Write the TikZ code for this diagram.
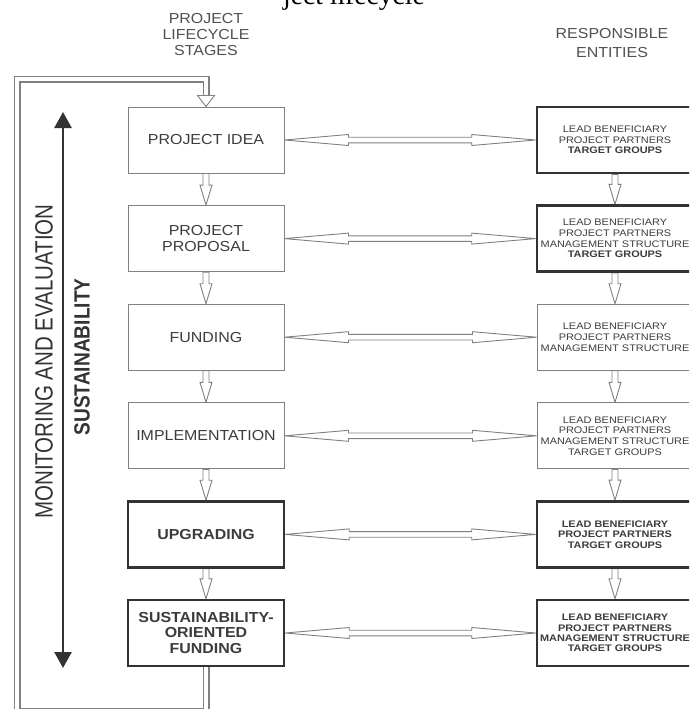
\documentclass[tikz,border=0pt]{standalone}
\usepackage{fontspec}
\setmainfont{Liberation Sans}
\newfontfamily\stagefont[FakeStretch=1.1]{Liberation Sans}
\newfontfamily\entityfont[FakeStretch=1.15]{Liberation Sans}
\newfontfamily\sidefont[FakeStretch=0.82]{Liberation Sans}
\newfontfamily\sustfont[FakeStretch=0.87]{Liberation Sans}
\newfontfamily\captionfont{Liberation Serif}
\usetikzlibrary{arrows.meta,backgrounds}
\definecolor{textgray}{HTML}{3C3C3C}
\definecolor{linegray}{HTML}{808080}
\definecolor{boldgray}{HTML}{333333}
\definecolor{headgray}{HTML}{505050}

\tikzset{
  stage/.style={draw=linegray,line width=1pt,fill=white,minimum width=156pt,minimum height=66pt,
    inner sep=0pt,align=center,text=textgray,font=\stagefont\fontsize{14.5}{16}\selectfont},
  keystage/.style={stage,draw=boldgray,line width=2.4pt,font=\stagefont\bfseries\fontsize{14.5}{15.5}\selectfont},
  entity/.style={stage,font=\entityfont\fontsize{9.5}{10.7}\selectfont},
  keyentity/.style={entity,draw=boldgray,line width=2.6pt},
  boldentity/.style={keyentity,font=\entityfont\bfseries\fontsize{9.5}{10.4}\selectfont},
  header/.style={align=center,text=headgray,font=\stagefont\fontsize{14.5}{16}\selectfont},
  flow/.style={draw=linegray,line width=0.9pt,fill=white,to path={
    ([xshift=-3pt]\tikztostart) -- ([xshift=-3pt,yshift=20pt]\tikztotarget)
    -- ([xshift=-6pt,yshift=20pt]\tikztotarget) -- (\tikztotarget)
    -- ([xshift=6pt,yshift=20pt]\tikztotarget) -- ([xshift=3pt,yshift=20pt]\tikztotarget)
    -- ([xshift=3pt]\tikztostart) -- cycle}},
  link/.style={draw=linegray,line width=0.9pt,fill=white,to path={
    (\tikztostart) -- ([xshift=64pt,yshift=5.5pt]\tikztostart) -- ([xshift=64pt,yshift=2.8pt]\tikztostart)
    -- ([xshift=-64pt,yshift=2.8pt]\tikztotarget) -- ([xshift=-64pt,yshift=5.5pt]\tikztotarget)
    -- (\tikztotarget)
    -- ([xshift=-64pt,yshift=-5.5pt]\tikztotarget) -- ([xshift=-64pt,yshift=-2.8pt]\tikztotarget)
    -- ([xshift=64pt,yshift=-2.8pt]\tikztostart) -- ([xshift=64pt,yshift=-5.5pt]\tikztostart) -- cycle}},
  feedback/.style={draw=linegray,line width=7pt,postaction={draw=white,line width=4.6pt}},
  span/.style={draw=boldgray,line width=2.6pt,arrows={Triangle[length=16pt,width=17pt]-Triangle[length=16pt,width=17pt]}}
}

\begin{document}
\begin{tikzpicture}[x=1pt,y=-1pt]
\useasboundingbox (0,0) rectangle (689,709);
\clip (0,0) rectangle (689,709);

% caption line cut by the top edge
\node[font=\captionfont\fontsize{27.6}{30}\selectfont,anchor=base,inner sep=0pt] (caption) at (354,5) {ject lifecycle};

% column heads
\node[header] (stagehead) at (206,35) {PROJECT\\LIFECYCLE\\STAGES};
\node[header,font=\stagefont\fontsize{14.5}{19}\selectfont] (entityhead) at (612,43.5) {RESPONSIBLE\\ENTITIES};

% stages
\node[stage] (s1) at (206,140) {PROJECT IDEA};
\node[stage] (s2) at (206,238.6) {PROJECT\\PROPOSAL};
\node[stage] (s3) at (206,337.2) {FUNDING};
\node[stage] (s4) at (206,435.8) {IMPLEMENTATION};
\node[keystage] (s5) at (206,534.4) {UPGRADING};
\node[keystage] (s6) at (206,633) {SUSTAINABILITY-\\ORIENTED\\FUNDING};

% responsible entities
\node[keyentity] (e1) at (615,140) {LEAD BENEFICIARY\\PROJECT PARTNERS\\\textbf{TARGET GROUPS}};
\node[keyentity] (e2) at (615,238.6) {LEAD BENEFICIARY\\PROJECT PARTNERS\\MANAGEMENT STRUCTURE\\\textbf{TARGET GROUPS}};
\node[entity] (e3) at (615,337.2) {LEAD BENEFICIARY\\PROJECT PARTNERS\\MANAGEMENT STRUCTURE};
\node[entity] (e4) at (615,435.8) {LEAD BENEFICIARY\\PROJECT PARTNERS\\MANAGEMENT STRUCTURE\\TARGET GROUPS};
\node[boldentity] (e5) at (615,534.4) {LEAD BENEFICIARY\\PROJECT PARTNERS\\TARGET GROUPS};
\node[boldentity] (e6) at (615,633) {LEAD BENEFICIARY\\PROJECT PARTNERS\\MANAGEMENT STRUCTURE\\TARGET GROUPS};

% side labels
\node[rotate=90,text=boldgray,font=\sidefont\fontsize{25}{25}\selectfont] (monitor) at (44,361.5) {MONITORING AND EVALUATION};
\node[rotate=90,text=boldgray,font=\sustfont\bfseries\fontsize{22}{22}\selectfont] (sust) at (82,357) {SUSTAINABILITY};
\coordinate (spantop) at (63,112);
\coordinate (spanbot) at (63,668);
\draw[span] (spantop) -- (spanbot);

% feedback loop corners
\coordinate (loopbl) at (17,711);
\coordinate (looptl) at (17,79);

\begin{scope}[on background layer]
\fill[white] (0,0) rectangle (689,709);
\foreach \i/\j in {1/2,2/3,3/4,4/5,5/6} {
  \draw[flow] (s\i.south) to (s\j.north);
  \draw[flow] (e\i.south) to (e\j.north);
}
\foreach \i in {1,...,6}
  \draw[link] (s\i.east) to (e\i.west);
\draw[feedback] (s6.south) |- (loopbl) -- (looptl) -| ([yshift=11pt]s1.north);
\draw[draw=linegray,line width=0.9pt,fill=white] ([xshift=-8.5pt,yshift=11pt]s1.north) -- (s1.north)
  -- ([xshift=8.5pt,yshift=11pt]s1.north) -- cycle;
\end{scope}
\end{tikzpicture}
\end{document}
